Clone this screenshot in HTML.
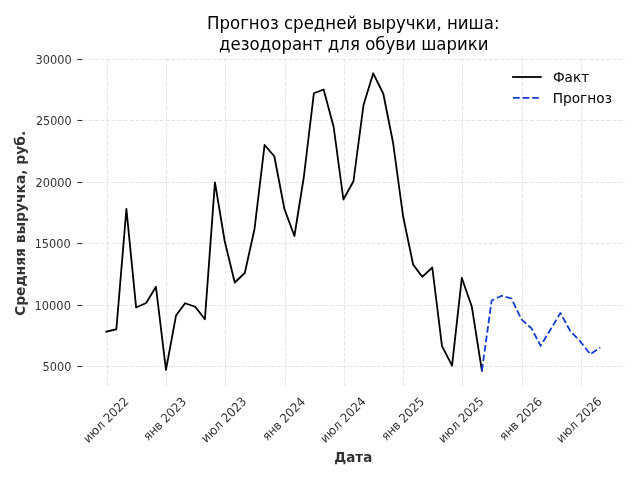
<!DOCTYPE html>
<html lang="ru">
<head>
<meta charset="utf-8">
<title>Прогноз средней выручки</title>
<style>
html,body{margin:0;padding:0;background:#ffffff;width:640px;height:480px;overflow:hidden}
svg{display:block}
text{font-family:"DejaVu Sans","Liberation Sans",sans-serif}
</style>
</head>
<body>
<svg width="640" height="480" viewBox="0 0 640 480">
<rect x="0" y="0" width="640" height="480" fill="#ffffff"/>
<clipPath id="ax"><rect x="82.53" y="58.41" width="542.57" height="327.59"/></clipPath>
<g clip-path="url(#ax)" fill="none" stroke="#e5e5e5" stroke-width="1.11" stroke-dasharray="4.11 1.78">
<path d="M107.5 386.53 L107.5 58.41"/>
<path d="M166.5 386.53 L166.5 58.41"/>
<path d="M225.5 386.53 L225.5 58.41"/>
<path d="M285.5 386.53 L285.5 58.41"/>
<path d="M344.5 386.53 L344.5 58.41"/>
<path d="M403.5 386.53 L403.5 58.41"/>
<path d="M462.5 386.53 L462.5 58.41"/>
<path d="M522.5 386.53 L522.5 58.41"/>
<path d="M581.5 386.53 L581.5 58.41"/>
<path d="M82.53 59.5 L625.1 59.5"/>
<path d="M82.53 120.5 L625.1 120.5"/>
<path d="M82.53 182.5 L625.1 182.5"/>
<path d="M82.53 243.5 L625.1 243.5"/>
<path d="M82.53 305.5 L625.1 305.5"/>
<path d="M82.53 366.5 L625.1 366.5"/>
</g>
<g stroke="#333333" stroke-width="1.11" fill="none">
<path d="M77.4 59.5 L82.4 59.5"/>
<path d="M77.4 120.5 L82.4 120.5"/>
<path d="M77.4 182.5 L82.4 182.5"/>
<path d="M77.4 243.5 L82.4 243.5"/>
<path d="M77.4 305.5 L82.4 305.5"/>
<path d="M77.4 366.5 L82.4 366.5"/>
</g>
<g fill="#333333" font-size="11.574px" text-anchor="end">
<text transform="translate(71.65 63.7) scale(0.983 1.027)">30000</text>
<text transform="translate(71.525 124.7) scale(0.967 1.04)">25000</text>
<text transform="translate(71.65 186.7) scale(0.985 1.045)">20000</text>
<text transform="translate(70.65 247.7) scale(0.979 1.052)">15000</text>
<text transform="translate(70.9 309.7) scale(0.989 1.052)">10000</text>
<text transform="translate(71.4 370.7) scale(0.98 1.07)">5000</text>
</g>
<g fill="#333333" font-size="11.574px" text-anchor="middle">
<text transform="translate(105.7 419.637) rotate(-45) scale(1.012 1.06)" y="4.22">июл 2022</text>
<text transform="translate(164.45 418.717) rotate(-45) scale(1.01 1.065)" y="4.22">янв 2023</text>
<text transform="translate(223.575 419.512) rotate(-45) scale(1.003 1.088)" y="4.22">июл 2023</text>
<text transform="translate(283.45 418.717) rotate(-45) scale(1.01 1.052)" y="4.22">янв 2024</text>
<text transform="translate(342.7 419.637) rotate(-45) scale(1.01 1.06)" y="4.22">июл 2024</text>
<text transform="translate(402.45 418.717) rotate(-45) scale(1.008 1.062)" y="4.22">янв 2025</text>
<text transform="translate(460.7 419.637) rotate(-45) scale(1.01 1.06)" y="4.22">июл 2025</text>
<text transform="translate(520.45 418.717) rotate(-45) scale(1.01 1.065)" y="4.22">янв 2026</text>
<text transform="translate(578.7 419.637) rotate(-45) scale(1.01 1.06)" y="4.22">июл 2026</text>
</g>
<path d="M106.29 331.75 L116.35 329.25 L126.40 209.00 L136.13 307.50 L146.19 303.00 L155.92 286.75 L165.97 369.90 L176.03 315.50 L185.11 303.25 L195.17 306.75 L204.90 319.25 L214.95 182.30 L224.68 241.00 L234.74 282.50 L244.79 273.00 L254.53 229.00 L264.58 145.00 L274.31 156.25 L284.37 208.75 L294.42 236.00 L303.83 177.00 L313.88 93.25 L323.62 89.50 L333.67 127.00 L343.40 199.50 L353.46 181.25 L363.51 105.00 L373.24 73.28 L383.30 93.75 L393.03 142.50 L403.09 216.25 L413.14 264.60 L422.22 276.80 L432.28 267.50 L442.01 346.20 L452.06 365.70 L461.80 278.00 L471.85 306.80 L481.91 370.65" fill="none" stroke="#000000" stroke-width="1.806" stroke-linejoin="round" stroke-linecap="square"/>
<path d="M481.91 370.65 L491.64 300.50 L501.69 295.75 L511.42 298.50 L521.48 319.40 L531.53 328.40 L540.62 345.80 L550.67 329.20 L560.40 313.00 L570.46 331.40 L580.19 341.25 L590.24 354.20 L600.30 347.40" fill="none" stroke="#103cd8" stroke-width="1.806" stroke-linejoin="round" stroke-linecap="butt" stroke-dasharray="6.68 2.89"/>
<g fill="#000000" font-size="16.667px" text-anchor="middle">
<text transform="translate(353.25 28.8) scale(0.997 1.055)">Прогноз средней выручки, ниша:</text>
<text transform="translate(353.875 50.125) scale(0.996 1.085)">дезодорант для обуви шарики</text>
</g>
<g fill="#333333" font-size="13.889px" font-weight="bold" text-anchor="middle">
<text transform="translate(353.25 461.6) scale(0.968 1.03)">Дата</text>
<text transform="translate(25.2 223.425) rotate(-90) scale(0.998 1)">Средняя выручка, руб.</text>
</g>
<path d="M513 77 L540.8 77" fill="none" stroke="#000000" stroke-width="1.806" stroke-linecap="square"/>
<path d="M513 97.8 L540.8 97.8" fill="none" stroke="#103cd8" stroke-width="1.806" stroke-dasharray="6.68 2.89"/>
<g fill="#000000" font-size="13.889px">
<text transform="translate(552.9 81.6) scale(0.98 1.04)">Факт</text>
<text transform="translate(552.725 103.3) scale(0.988 0.97)">Прогноз</text>
</g>
</svg>
</body>
</html>
